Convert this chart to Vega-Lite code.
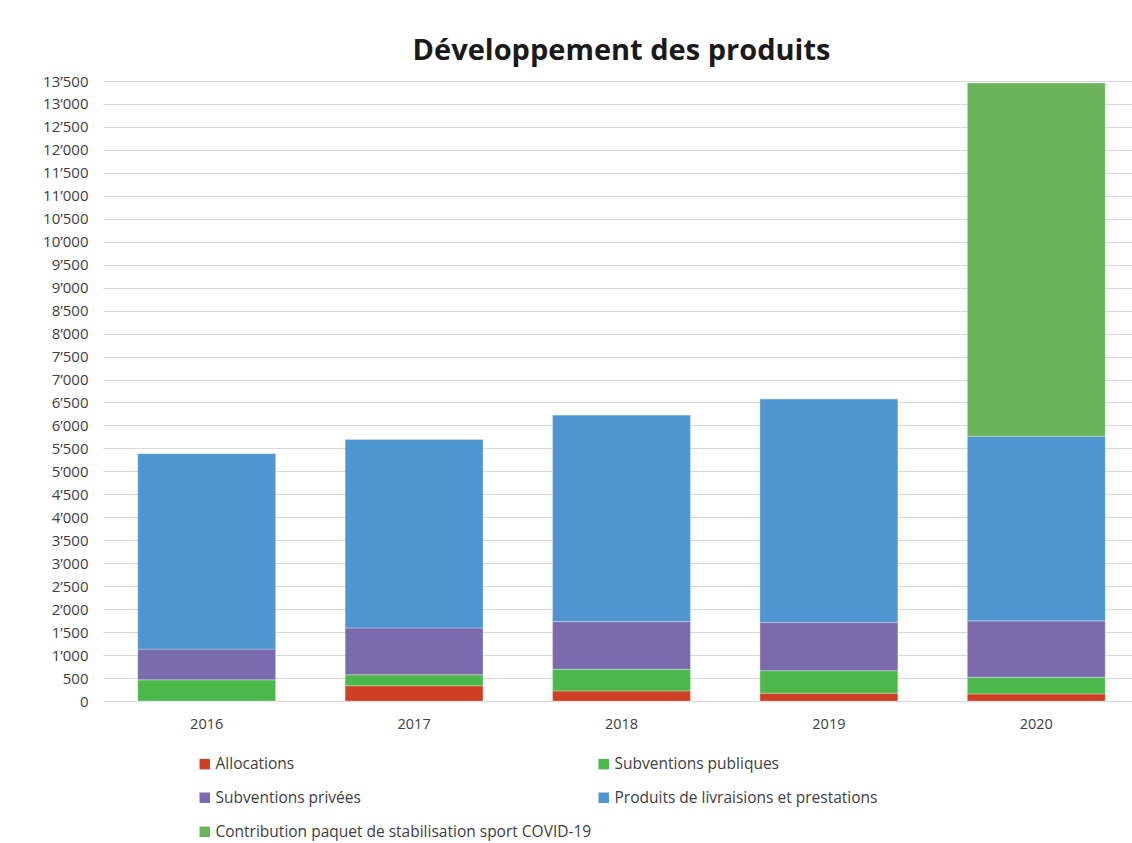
{
  "$schema": "https://vega.github.io/schema/vega-lite/v6.json",
  "autosize": "none",
  "padding": {"left": 103, "top": 81, "right": 0, "bottom": 142},
  "width": 1037,
  "height": 620,
  "background": "white",
  "title": {
    "text": "Développement des produits",
    "font": "Open Sans",
    "fontWeight": "bold",
    "fontSize": 29,
    "color": "#1a1a1a",
    "anchor": "middle",
    "offset": 8
  },
  "data": {
    "values": [
      {"year": "2016", "category": "Allocations", "value": 0, "o": 1},
      {"year": "2016", "category": "Subventions publiques", "value": 460, "o": 2},
      {"year": "2016", "category": "Subventions privées", "value": 670, "o": 3},
      {"year": "2016", "category": "Produits de livraisions et prestations", "value": 4260, "o": 4},
      {"year": "2016", "category": "Contribution paquet de stabilisation sport COVID-19", "value": 0, "o": 5},
      {"year": "2017", "category": "Allocations", "value": 330, "o": 1},
      {"year": "2017", "category": "Subventions publiques", "value": 240, "o": 2},
      {"year": "2017", "category": "Subventions privées", "value": 1020, "o": 3},
      {"year": "2017", "category": "Produits de livraisions et prestations", "value": 4110, "o": 4},
      {"year": "2017", "category": "Contribution paquet de stabilisation sport COVID-19", "value": 0, "o": 5},
      {"year": "2018", "category": "Allocations", "value": 220, "o": 1},
      {"year": "2018", "category": "Subventions publiques", "value": 470, "o": 2},
      {"year": "2018", "category": "Subventions privées", "value": 1040, "o": 3},
      {"year": "2018", "category": "Produits de livraisions et prestations", "value": 4500, "o": 4},
      {"year": "2018", "category": "Contribution paquet de stabilisation sport COVID-19", "value": 0, "o": 5},
      {"year": "2019", "category": "Allocations", "value": 170, "o": 1},
      {"year": "2019", "category": "Subventions publiques", "value": 490, "o": 2},
      {"year": "2019", "category": "Subventions privées", "value": 1050, "o": 3},
      {"year": "2019", "category": "Produits de livraisions et prestations", "value": 4870, "o": 4},
      {"year": "2019", "category": "Contribution paquet de stabilisation sport COVID-19", "value": 0, "o": 5},
      {"year": "2020", "category": "Allocations", "value": 155, "o": 1},
      {"year": "2020", "category": "Subventions publiques", "value": 360, "o": 2},
      {"year": "2020", "category": "Subventions privées", "value": 1230, "o": 3},
      {"year": "2020", "category": "Produits de livraisions et prestations", "value": 4020, "o": 4},
      {"year": "2020", "category": "Contribution paquet de stabilisation sport COVID-19", "value": 7690, "o": 5}
    ]
  },
  "mark": {"type": "bar", "stroke": "white", "strokeWidth": 0.5, "strokeOpacity": 0.6},
  "encoding": {
    "x": {
      "field": "year",
      "type": "ordinal",
      "scale": {"paddingInner": 0.335, "paddingOuter": 0.1675},
      "axis": {
        "title": null,
        "labelAngle": 0,
        "ticks": false,
        "domain": false,
        "labelFont": "Open Sans",
        "labelFontSize": 14.5,
        "labelColor": "#404040",
        "labelPadding": 16
      }
    },
    "y": {
      "field": "value",
      "type": "quantitative",
      "stack": "zero",
      "scale": {"domain": [0, 13500], "nice": false},
      "axis": {
        "title": null,
        "values": [0,500,1000,1500,2000,2500,3000,3500,4000,4500,5000,5500,6000,6500,7000,7500,8000,8500,9000,9500,10000,10500,11000,11500,12000,12500,13000,13500],
        "labelExpr": "replace(format(datum.value, ','), ',', '’')",
        "ticks": false,
        "domain": false,
        "grid": true,
        "gridColor": "#D9D9D9",
        "gridWidth": 1,
        "labelFont": "Open Sans",
        "labelFontSize": 15,
        "labelColor": "#404040",
        "labelPadding": 15
      }
    },
    "order": {"field": "o", "type": "quantitative", "sort": "ascending"},
    "color": {
      "field": "category",
      "type": "nominal",
      "scale": {
        "domain": ["Allocations", "Subventions publiques", "Subventions privées", "Produits de livraisions et prestations", "Contribution paquet de stabilisation sport COVID-19"],
        "range": ["#CF3F25", "#4CB84C", "#7A6BAE", "#4F95D0", "#6AB45A"]
      },
      "legend": {
        "title": null,
        "orient": "none",
        "legendX": 94,
        "legendY": 675,
        "direction": "horizontal",
        "columns": 2,
        "gridAlign": "all",
        "columnPadding": 4,
        "rowPadding": 17,
        "symbolType": "square",
        "symbolSize": 110,
        "symbolStrokeWidth": 0,
        "symbolOffset": 0,
        "labelOffset": 3,
        "labelFont": "Open Sans",
        "labelFontSize": 15.5,
        "labelColor": "#404040",
        "labelLimit": 500
      }
    }
  },
  "config": {
    "view": {"stroke": null}
  }
}
